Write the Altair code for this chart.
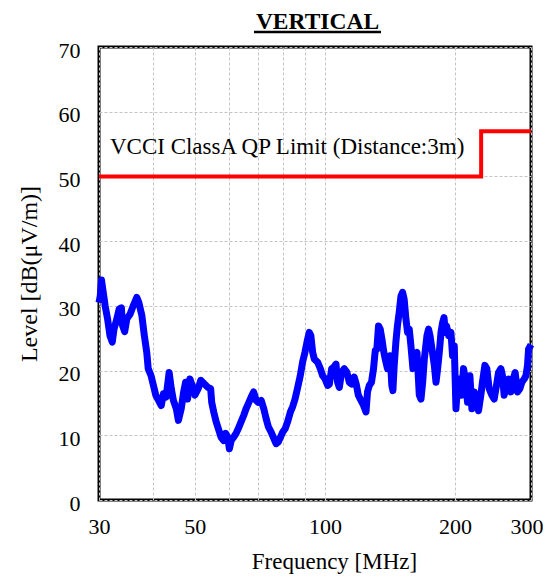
import altair as alt
import pandas as pd

# ---- measured trace (frequency in MHz, level in dB(uV/m)) ----
freq = [
    30.0, 30.2, 30.4, 30.7, 31.0, 31.4, 31.8, 32.2, 32.5, 33.0, 33.4, 33.8, 34.0, 34.4, 34.8,
    35.4, 36.0, 36.7, 37.1, 37.7, 38.2, 38.7, 39.0, 39.6, 40.1, 40.6, 41.2, 41.8, 42.3, 42.9,
    43.6, 44.1, 44.6, 45.3, 45.8, 46.5, 47.1, 47.6, 48.1, 48.7, 49.3, 50.0, 50.9, 51.6, 52.7,
    53.6, 54.4, 54.7, 55.3, 56.0, 56.7, 57.5, 58.3, 58.9, 59.6, 60.1, 60.7, 61.5, 62.3, 63.0,
    64.0, 64.9, 65.7, 66.5, 67.5, 68.4, 69.3, 70.1, 71.2, 72.2, 73.1, 74.0, 75.1, 76.2, 77.1,
    78.1, 78.9, 79.9, 80.9, 82.0, 83.2, 84.2, 85.3, 86.5, 87.7, 88.8, 89.9, 90.9, 92.0, 92.8,
    93.7, 94.5, 96.2, 97.6, 98.8, 100.1, 101.5, 102.4, 103.7, 104.8, 106.1, 107.0, 108.0, 109.3,
    110.9, 112.5, 113.9, 115.3, 116.9, 118.2, 119.5, 121.2, 122.9, 124.5, 125.5, 126.7, 128.2,
    129.6, 130.8, 131.9, 133.1, 134.3, 135.5, 136.7, 137.9, 139.6, 141.6, 142.9, 143.7, 144.7,
    146.0, 147.2, 148.6, 150.0, 151.3, 152.6, 154.0, 155.4, 156.8, 158.2, 159.9, 161.6, 163.4,
    165.4, 166.9, 168.4, 169.9, 172.3, 173.8, 175.1, 177.0, 179.2, 180.8, 182.4, 184.0, 185.7,
    187.3, 188.7, 190.0, 191.3, 193.4, 195.8, 197.5, 199.3, 201.1, 202.8, 204.7, 207.2, 209.4,
    211.3, 213.9, 216.6, 218.9, 221.7, 224.4, 226.8, 229.6, 231.6, 234.6, 237.1, 240.0, 243.5,
    246.5, 249.6, 252.3, 255.5, 257.7, 260.0, 263.3, 266.1, 269.5, 272.8, 275.7, 279.2, 282.7,
    285.7, 289.3, 292.0, 294.5, 296.1, 300.0,
]
level = [
    30.5, 31.5, 34.0, 32.0, 30.0, 28.0, 25.4, 24.4, 26.4, 28.0, 29.5, 29.7, 27.0, 26.0, 28.0,
    28.7, 30.0, 31.3, 30.5, 28.5, 25.4, 22.8, 20.3, 19.2, 17.7, 16.2, 15.4, 14.6, 16.4, 15.9,
    19.7, 17.2, 15.4, 14.1, 12.3, 14.1, 16.7, 18.2, 15.6, 18.7, 17.7, 16.2, 17.2, 18.5, 17.9,
    17.4, 17.2, 15.1, 13.6, 12.1, 11.0, 9.7, 9.2, 10.3, 9.7, 7.9, 9.2, 9.7, 10.3, 11.0,
    12.1, 13.1, 14.1, 14.9, 15.9, 16.7, 15.4, 15.1, 15.4, 14.1, 12.6, 11.3, 10.5, 9.5, 8.7,
    9.0, 9.7, 10.5, 11.0, 12.1, 13.6, 14.4, 15.6, 17.4, 19.2, 21.3, 22.8, 24.4, 25.9, 25.4,
    22.8, 21.8, 21.3, 20.3, 19.2, 18.7, 17.7, 17.9, 20.3, 20.5, 21.0, 18.2, 17.4, 19.7,
    20.3, 19.7, 18.2, 17.9, 19.0, 17.9, 16.2, 15.4, 14.6, 13.6, 16.7, 17.7, 18.2,
    20.3, 23.1, 23.3, 26.9, 26.4, 24.9, 23.1, 21.8, 20.3, 22.3, 17.7, 16.9, 20.8,
    24.4, 26.9, 29.0, 31.5, 32.1, 31.0, 28.0, 25.9, 26.4, 23.8, 20.3, 22.3, 22.8,
    16.2, 15.6, 18.2, 21.8, 25.4, 26.4, 25.4, 23.3, 20.8, 18.2, 20.3, 22.8, 25.9,
    27.4, 28.2, 25.9, 26.9, 25.4, 25.9, 22.3, 23.8, 14.1, 17.7, 18.7, 16.2, 20.3,
    18.7, 15.1, 19.2, 14.1, 16.7, 15.6, 13.8, 16.2, 18.2, 20.8, 20.3, 17.2, 16.2,
    15.6, 17.7, 19.7, 20.3, 19.2, 16.2, 17.7, 18.7, 16.7, 18.7, 19.7, 16.7, 17.2,
    18.2, 18.7, 19.2, 20.8, 23.3, 24.0,
]

# ---- VCCI Class A QP limit at 3 m ----
limit_freq = [30, 230, 300]
limit_level = [50, 57, 57]

# ---- annotation / titles ----
limit_label = ["VCCI ClassA QP Limit (Distance:3m)"]
limit_label_freq = [31.8]
limit_label_level = [53.5]
chart_title = ["VERTICAL"]
x_title = "Frequency [MHz]"
y_title = "Level [dB(\u03bcV/m)]"

x_grid_values = [30, 40, 50, 60, 70, 80, 90, 100, 200, 300]
x_label_values = [30, 50, 100, 200, 300]
y_values = [0, 10, 20, 30, 40, 50, 60, 70]

FONT = "Liberation Serif"

meas_df = pd.DataFrame({"freq": freq, "level": level})
limit_df = pd.DataFrame({"freq": limit_freq, "level": limit_level})
label_df = pd.DataFrame({"freq": limit_label_freq, "level": limit_label_level, "text": limit_label})
title_df = pd.DataFrame({"text": chart_title})

label_list = "[" + ",".join(str(v) for v in x_label_values) + "]"

x_axis = alt.Axis(
    values=x_grid_values,
    labelExpr=f"indexof({label_list}, datum.value) >= 0 ? toString(datum.value) : ''",
    title=x_title,
    titleFont=FONT, titleFontSize=23, titleFontWeight="normal", titleColor="black",
    titleX=235, titleY=68, titleAlign="center", titleBaseline="alphabetic",
    labelFont=FONT, labelFontSize=22, labelColor="black",
    labelBaseline="alphabetic", labelPadding=33,
    labelAlign={"condition": {"test": "datum.value >= 300", "value": "right"}, "value": "center"},
    labelOffset={"condition": {"test": "datum.value >= 300", "value": 12}, "value": 0},
    labelFlush=False, labelOverlap=False,
    ticks=False, tickSize=0, domain=False,
    grid=True, gridColor="#c4c4c4", gridDash=[3, 2], gridWidth=1,
)
y_axis = alt.Axis(
    values=y_values,
    title=y_title,
    titleFont=FONT, titleFontSize=24, titleFontWeight="normal", titleColor="black",
    titleAngle=270, titleX=-63, titleY=226.5, titleAlign="center", titleBaseline="alphabetic",
    labelFont=FONT, labelFontSize=22, labelColor="black",
    labelBaseline="alphabetic", labelOffset=10, labelPadding=19, labelAlign="right",
    labelFlush=False, labelOverlap=False,
    ticks=False, tickSize=0, domain=False,
    grid=True, gridColor="#c4c4c4", gridDash=[3, 2], gridWidth=1,
)

x_enc = alt.X("freq:Q", scale=alt.Scale(type="log", domain=[30, 300]), axis=x_axis)
y_enc = alt.Y("level:Q", scale=alt.Scale(domain=[0, 70]), axis=y_axis)

meas = alt.Chart(meas_df).mark_line(color="#0000ff", strokeWidth=7, strokeJoin="round").encode(
    x=x_enc, y=y_enc
)
limit = alt.Chart(limit_df).mark_line(color="#ff0000", strokeWidth=4, interpolate="step-after").encode(
    x=x_enc, y=y_enc
)
label = alt.Chart(label_df).mark_text(
    font=FONT, fontSize=23, color="black", align="left", baseline="alphabetic"
).encode(x=x_enc, y=y_enc, text="text:N")

title = alt.Chart(title_df).mark_text(
    font=FONT, fontSize=23.5, fontWeight="bold", color="black", align="center", baseline="alphabetic"
).encode(x=alt.value(218.5), y=alt.value(-18.5), text="text:N")
underline = alt.Chart(title_df).mark_rule(color="black", strokeWidth=2.5).encode(
    x=alt.value(155), x2=alt.value(282), y=alt.value(-15)
)

chart = alt.layer(meas, limit, label, title, underline).properties(
    width=432,
    height=453,
    padding={"left": 91, "top": 39, "right": 12, "bottom": 76},
    autosize=alt.AutoSizeParams(type="none"),
    background="white",
).configure_view(stroke="black", strokeWidth=3)

chart.save("out.html", embed_options={"renderer": "svg", "actions": False})
